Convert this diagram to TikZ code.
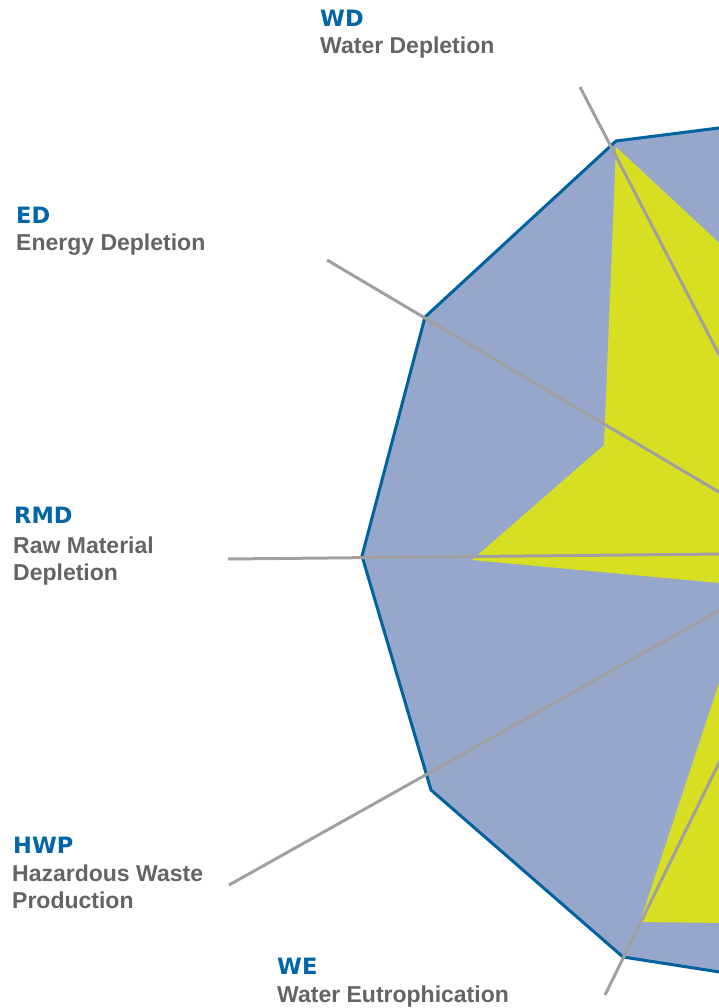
\documentclass[tikz,border=0pt]{standalone}
\usepackage{fontspec}
\setmainfont{Liberation Sans}
\newfontfamily\headfont{DejaVu Sans}
\definecolor{headblue}{HTML}{0066A6}
\definecolor{txtgray}{HTML}{646464}
\definecolor{polyfill}{HTML}{97A7CB}
\definecolor{polyline}{HTML}{00629F}
\definecolor{yel}{HTML}{D6DF22}
\definecolor{axisgray}{HTML}{A0A0A0}
\tikzset{
  head/.style={anchor=base west, inner sep=0pt, text=headblue, font=\headfont\fontsize{22.5}{27}\selectfont\bfseries},
  desc/.style={anchor=base west, inner sep=0pt, text=txtgray, align=left, font=\fontsize{23}{27}\selectfont\bfseries},
  axisline/.style={draw=axisgray, line width=3pt},
  outerpoly/.style={fill=polyfill, draw=polyline, line width=3pt, line join=miter},
  valuepoly/.style={fill=yel}
}
\begin{document}
\begin{tikzpicture}[x=1pt,y=-1pt]
\useasboundingbox (0,0) rectangle (719,1008);
\begin{scope}
\clip (0,0) rectangle (719,1008);
\filldraw[outerpoly] (900,105) -- (616,141) -- (425,317) -- (362,556) -- (431,790) -- (623,957) -- (900,1000) -- cycle;
\fill[valuepoly] (616,147) -- (604,445) -- (472,560) -- (730,584) -- (725,665) -- (640,922) -- (730,923) -- (730,253) -- cycle;
\coordinate (c) at (822,553);
\coordinate (wdEnd) at (580,87);
\coordinate (edEnd) at (327,260);
\coordinate (rmdEnd) at (228,559);
\coordinate (hwpEnd) at (229,885);
\coordinate (weEnd) at (605,995);
\draw[axisline] (wdEnd) -- (c);
\draw[axisline] (edEnd) -- (c);
\draw[axisline] (rmdEnd) -- (c);
\draw[axisline] (hwpEnd) -- (c);
\draw[axisline] (weEnd) -- (c);
\end{scope}
\node[head] (wdH) at (320,27) {WD};
\node[desc] (wdD) at (320,54) {Water Depletion};
\node[head] (edH) at (16,223) {ED};
\node[desc] (edD) at (16,251) {Energy Depletion};
\node[head] (rmdH) at (14,523) {RMD};
\node[desc] (rmdD) at (13,580) {Raw Material\\Depletion};
\node[head] (hwpH) at (13,853) {HWP};
\node[desc] (hwpD) at (12,908) {Hazardous Waste\\Production};
\node[head] (weH) at (277,974) {WE};
\node[desc] (weD) at (277,1002) {Water Eutrophication};
\end{tikzpicture}
\end{document}
